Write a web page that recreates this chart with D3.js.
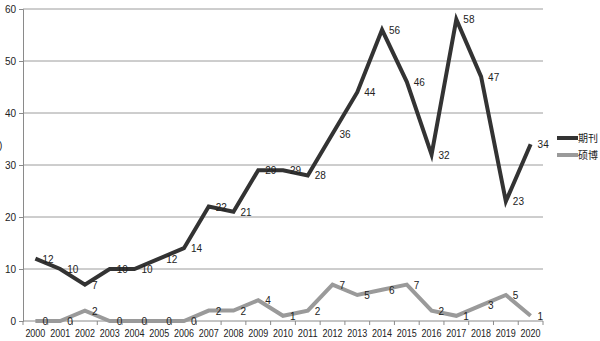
<!DOCTYPE html>
<html>
<head>
<meta charset="utf-8">
<script src="https://cdn.jsdelivr.net/npm/d3@7"></script>
<style>
  html, body { margin: 0; padding: 0; background: #fff; }
  svg { display: block; font-family: "Liberation Sans", Arial, sans-serif; }
</style>
</head>
<body>
<svg id="chart" width="600" height="341"></svg>
<script>
// Yearly counts of publications
const years = ["2000","2001","2002","2003","2004","2005","2006","2007","2008","2009","2010",
               "2011","2012","2013","2014","2015","2016","2017","2018","2019","2020"];
const journals = [12,10,7,10,10,12,14,22,21,29,29,28,36,44,56,46,32,58,47,23,34];
const theses   = [0,0,2,0,0,0,0,2,2,4,1,2,7,5,6,7,2,1,3,5,1];
const yTicks = [0,10,20,30,40,50,60];
const seriesNames = ["期刊","硕博"];
const seriesColors = ["#333333","#9a9a9a"];

const svg = d3.select("#chart");
const plot = { left: 23, right: 543, top: 9, bottom: 321 };

const x = d3.scaleBand().domain(years).range([plot.left, plot.right]);
const y = d3.scaleLinear().domain([0, 60]).range([plot.bottom, plot.top]);
const cx = d => x(d) + x.bandwidth() / 2;

// Horizontal gridlines
svg.append("g")
  .selectAll("line")
  .data(yTicks.filter(t => t > 0))
  .join("line")
  .attr("x1", plot.left).attr("x2", plot.right)
  .attr("y1", d => y(d)).attr("y2", d => y(d))
  .attr("stroke", "#9c9c9c").attr("stroke-width", 1);

// Y axis
const yAxis = svg.append("g")
  .attr("transform", `translate(${plot.left},0)`)
  .call(d3.axisLeft(y).tickValues(yTicks).tickSize(4).tickPadding(3));
yAxis.select(".domain").attr("stroke", "#8a8a8a");
yAxis.selectAll(".tick line").attr("stroke", "#8a8a8a");
yAxis.selectAll("text").attr("font-size", 10).attr("fill", "#222");

// Axis title, mostly beyond the left edge
svg.append("text")
  .attr("x", -1).attr("y", 149)
  .attr("font-size", 10).attr("fill", "#222")
  .text(")");

// X axis with ticks at category boundaries
const xAxisG = svg.append("g").attr("transform", `translate(0,${plot.bottom})`);
xAxisG.append("line")
  .attr("x1", plot.left).attr("x2", plot.right)
  .attr("stroke", "#8a8a8a");
xAxisG.selectAll("line.tk")
  .data(years.concat(["end"]))
  .join("line")
  .attr("class", "tk")
  .attr("x1", (d, i) => plot.left + i * x.bandwidth())
  .attr("x2", (d, i) => plot.left + i * x.bandwidth())
  .attr("y1", 0).attr("y2", 4)
  .attr("stroke", "#8a8a8a");
xAxisG.selectAll("text")
  .data(years)
  .join("text")
  .attr("x", d => cx(d))
  .attr("y", 16)
  .attr("text-anchor", "middle")
  .attr("font-size", 10)
  .attr("textLength", 20)
  .attr("lengthAdjust", "spacingAndGlyphs")
  .attr("fill", "#222")
  .text(d => d);

// Lines
const line = d3.line().x((d, i) => cx(years[i])).y(d => y(d));
[journals, theses].forEach((vals, k) => {
  svg.append("path")
    .datum(vals)
    .attr("fill", "none")
    .attr("stroke", seriesColors[k])
    .attr("stroke-width", 4)
    .attr("stroke-linejoin", "miter")
    .attr("d", line);
});

// Value labels to the right of each point
[journals, theses].forEach(vals => {
  svg.append("g")
    .selectAll("text")
    .data(vals)
    .join("text")
    .attr("x", (d, i) => cx(years[i]) + 7)
    .attr("y", d => y(d) + 4)
    .attr("font-size", 10)
    .attr("fill", "#222")
    .text(d => d);
});

// Legend
const legend = svg.append("g");
seriesNames.forEach((name, k) => {
  const ly = 138 + k * 17;
  legend.append("line")
    .attr("x1", 557).attr("x2", 578)
    .attr("y1", ly).attr("y2", ly)
    .attr("stroke", seriesColors[k]).attr("stroke-width", 4);
  legend.append("text")
    .attr("x", 578).attr("y", ly + 4)
    .attr("font-size", 10)
    .attr("font-family", "'Noto Sans CJK SC', sans-serif")
    .attr("fill", "#222")
    .text(name);
});
</script>
</body>
</html>
